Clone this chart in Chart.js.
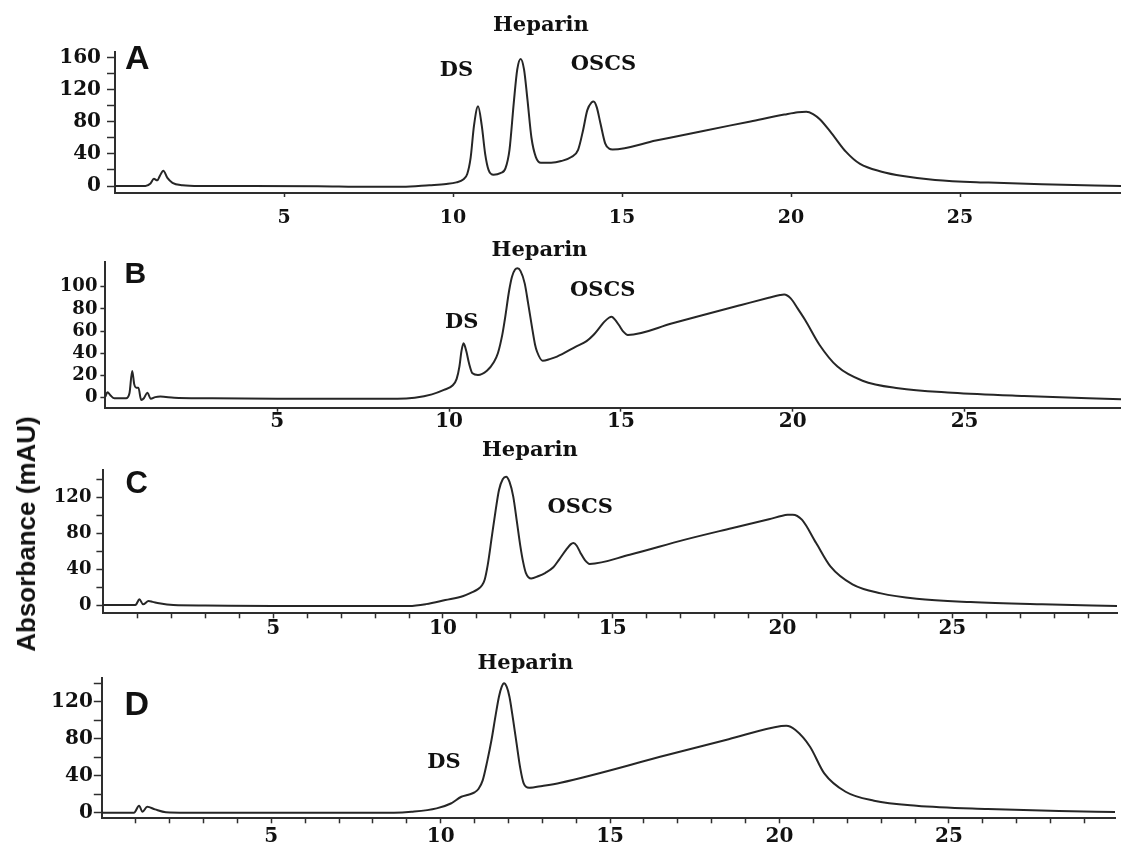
<!DOCTYPE html>
<html>
<head>
<meta charset="utf-8">
<script src="https://cdn.jsdelivr.net/npm/chart.js@4.4.1/dist/chart.umd.min.js"></script>
<style>
  html, body { margin:0; padding:0; background:#fff; }
  body { width:1121px; height:843px; position:relative; overflow:hidden; }
  canvas { position:absolute; left:0; }
  #ytitle { position:absolute; left:26px; top:534px; transform:translate(-50%,-50%) rotate(-90deg);
            font:bold 26px "Liberation Sans", Arial, sans-serif; line-height:1; white-space:nowrap; color:#111; }
</style>
</head>
<body>
<canvas id="cA" width="1121" height="232" style="top:0px"></canvas>
<canvas id="cB" width="1121" height="200" style="top:232px"></canvas>
<canvas id="cC" width="1121" height="208" style="top:432px"></canvas>
<canvas id="cD" width="1121" height="203" style="top:640px"></canvas>
<div id="ytitle">Absorbance (mAU)</div>
<script>
// ---------------- data (retention time in min, absorbance in mAU) ----------------
const timeA = [0.0,0.9,1.05,1.15,1.25,1.32,1.43,1.55,1.7,2.0,2.5,4.0,6.0,7.5,8.5,9.3,9.8,10.1,10.3,10.42,10.52,10.62,10.74,10.85,10.95,11.05,11.2,11.4,11.55,11.67,11.8,11.9,12.0,12.1,12.2,12.32,12.45,12.6,12.9,13.2,13.5,13.7,13.85,13.97,14.1,14.16,14.25,14.36,14.5,14.62,14.72,16.0,17.4,18.8,19.8,20.2,20.45,20.65,20.85,21.2,21.62,22.04,22.68,23.31,24.26,25.84,27.42,29.76];
const absA  = [0,0,3,9,7,12,19,10,4,1,0,0,-0.3,-1,-1,1,2.5,4.5,8,15,35,75,99,75,40,20,14,16,22,45,105,145,158,145,108,60,36,29,29,31,36,45,70,94,104,105,98,78,53,46.5,45.5,56.5,68.5,80.3,88.8,91.8,92.4,89.5,83,65.5,42.7,27.4,17.8,12.4,7.5,4.2,2.1,0];

const timeB = [0.0,0.06,0.15,0.26,0.6,0.7,0.78,0.84,0.9,0.96,1.04,1.12,1.22,1.32,1.45,1.6,2.0,3.0,5.0,7.0,8.5,9.0,9.5,9.85,10.1,10.22,10.3,10.36,10.42,10.5,10.58,10.68,10.84,11.1,11.3,11.42,11.55,11.62,11.75,11.83,11.92,11.99,12.08,12.2,12.3,12.41,12.5,12.56,12.72,12.95,13.14,13.69,14.0,14.2,14.4,14.52,14.65,14.73,14.82,14.94,15.07,15.2,16.5,17.34,18.5,19.3,19.63,19.75,19.94,20.15,20.36,20.78,21.3,22.03,23.07,24.64,26.73,29.55];
const absB  = [1,5,2,-0.5,-0.5,4,24,12,9,9,-2,-0.5,4.5,-1,0.5,1,0,-0.5,-1,-1,-1,0,3,7,11,17,28,42,49,42,31,22,20.5,24.3,32,40,57,70,97,109,115.5,116.6,114,103,85,64,48,41.4,33.3,35,37,46,51,56.5,64,68.5,72,73,70.5,65.5,59.5,56.5,67,74,83.5,90,92.5,93,89.5,80,70,47.5,28,15.3,8.5,4.5,1.5,-1.5];

const timeC = [0.0,0.9,0.96,1.06,1.17,1.33,1.45,1.64,2.06,3.0,5.0,7.0,9.0,9.5,10.07,10.6,10.85,11.02,11.15,11.23,11.32,11.44,11.55,11.65,11.76,11.86,11.96,12.07,12.18,12.28,12.36,12.44,12.6,12.8,13.02,13.25,13.42,13.63,13.76,13.84,13.94,14.05,14.18,14.32,15.5,17.1,18.5,19.6,20.15,20.3,20.57,20.99,21.41,22.06,22.9,23.95,25.54,27.64,29.85];
const absC  = [0,0,0.5,6.3,0.8,4.4,3.5,1.9,0,-0.5,-1,-1,-1,1,5.5,10,14,17.4,22,28.5,45,76.4,105,128,140,142.9,137,120.7,92,65.3,48,35.9,29.6,32,35.9,42,50.6,61.7,67.5,69,66,58,50,45.8,56,72.5,85.5,95.5,100.4,100.6,95,69,43,23,13,7,3.3,0.8,-1];

const timeD = [0.0,0.95,1.1,1.2,1.34,1.57,1.89,2.5,8.62,9.14,9.88,10.3,10.61,10.82,11.0,11.12,11.24,11.37,11.5,11.62,11.72,11.8,11.87,11.95,12.03,12.14,12.24,12.35,12.45,12.61,13.0,13.54,16.68,18.5,20.05,20.2,20.47,20.9,21.32,21.95,22.79,24.04,26.15,28.25,29.9];
const absD  = [0,0,7.6,1,6.5,3.6,0.5,0,0,1,4.7,10,17.3,19.5,22,26,35,55,78.6,105,125.4,136,139.9,136,125.4,100,75,48,31.8,27,29,32.5,62.4,79.5,93.7,94,89.4,71.4,42.6,22.7,13,7.6,4,1.8,0.8];

// tick values
const xTicksMajor = [5,10,15,20,25];
const xTicksMinor = [1,2,3,4,5,6,7,8,9,10,11,12,13,14,15,16,17,18,19,20,21,22,23,24,25,26,27,28,29];
const yTicksA  = [0,20,40,60,80,100,120,140,160];
const yTicksB  = [0,20,40,60,80,100];
const yTicksCD = [0,20,40,60,80,100,120,140];

// peak annotations (label, retention time, absorbance level of label)
const peaksA = [{text:'DS', t:10.1, v:143.7}, {text:'Heparin', t:12.6, v:199}, {text:'OSCS', t:14.45, v:150.5}];
const peaksB = [{text:'DS', t:10.37, v:67.3}, {text:'Heparin', t:12.63, v:132.2}, {text:'OSCS', t:14.47, v:96.1}];
const peaksC = [{text:'Heparin', t:12.56, v:171.9}, {text:'OSCS', t:14.04, v:108.7}];
const peaksD = [{text:'Heparin', t:12.5, v:161.3}, {text:'DS', t:10.1, v:54.3}];

// ---------------- drawing ----------------
const INK = '#111';
const AXIS = '#2e2e2e';

const textPlugin = {
  id: 'panelText',
  afterDraw(chart, args, o) {
    const ctx = chart.ctx, xs = chart.scales.x, ys = chart.scales.y;
    ctx.save();
    ctx.fillStyle = INK;
    ctx.textAlign = 'center';
    ctx.textBaseline = 'middle';
    ctx.font = 'bold 21px "DejaVu Serif"';
    o.peaks.forEach(p => ctx.fillText(p.text, xs.getPixelForValue(p.t), ys.getPixelForValue(p.v)));
    ctx.textAlign = 'left';
    ctx.textBaseline = 'alphabetic';
    ctx.font = 'bold ' + o.letterSize + 'px "Liberation Sans"';
    ctx.fillText(o.letter, o.letterX, o.letterY);
    ctx.restore();
  }
};

function panel(id, p) {
  const pts = p.times.map((t, i) => ({x: t, y: p.vals[i]}));
  const canvas = document.getElementById(id);
  return new Chart(canvas, {
    type: 'line',
    data: { datasets: [{ data: pts, borderColor: '#262626', borderWidth: 2, pointRadius: 0,
                         cubicInterpolationMode: 'monotone', fill: false }] },
    options: {
      responsive: false, animation: false, devicePixelRatio: 1,
      layout: { padding: { top: p.padTop, right: p.padRight, left: 0, bottom: 0 } },
      plugins: { legend: { display: false }, tooltip: { enabled: false },
                 panelText: { peaks: p.peaks, letter: p.letter, letterSize: p.letterSize, letterX: p.letterX, letterY: p.letterY } },
      scales: {
        x: {
          type: 'linear', min: p.xMin, max: p.xMax,
          afterBuildTicks: s => { s.ticks = p.xTicks.map(v => ({value: v})); },
          afterFit: s => { s.height = p.xHeight; },
          ticks: { autoSkip: false, maxRotation: 0, color: INK, padding: p.xPad,
                   font: { family: 'DejaVu Serif', weight: 'bold', size: p.xFont, lineHeight: 1 },
                   callback: v => (v % 5 === 0 ? String(v) : '') },
          grid: { display: true, drawOnChartArea: false, drawTicks: true, tickLength: p.xTickLen, tickWidth: 1.5, tickColor: AXIS },
          border: { display: true, color: AXIS, width: 2 }
        },
        y: {
          type: 'linear', min: p.yMin, max: p.yMax,
          afterBuildTicks: s => { s.ticks = p.yTicks.map(v => ({value: v})); },
          afterFit: s => { s.width = p.axisX; },
          ticks: { autoSkip: false, color: INK, padding: p.yPad,
                   font: { family: 'DejaVu Serif', weight: 'bold', size: p.yFont, lineHeight: 1 },
                   callback: v => (v % p.yLabelStep === 0 ? String(v) : '') },
          grid: { display: true, drawOnChartArea: false, drawTicks: true, tickLength: p.yTickLen, tickWidth: 1.5, tickColor: AXIS },
          border: { display: true, color: AXIS, width: 2 }
        }
      }
    },
    plugins: [textPlugin]
  });
}

panel('cA', { times: timeA, vals: absA, xMin: 0, xMax: 29.76, yMin: -8.7, yMax: 166.6,
  xTicks: xTicksMajor, yTicks: yTicksA, yLabelStep: 40,
  padTop: 52, padRight: 0, axisX: 115, xHeight: 39,
  xFont: 19, xPad: 12, xTickLen: 4, yFont: 20, yPad: 6, yTickLen: 8,
  peaks: peaksA, letter: 'A', letterSize: 34, letterX: 125, letterY: 69 });

panel('cB', { times: timeB, vals: absB, xMin: 0, xMax: 29.55, yMin: -9, yMax: 122.5,
  xTicks: xTicksMajor, yTicks: yTicksB, yLabelStep: 20,
  padTop: 29.7, padRight: 0, axisX: 105.4, xHeight: 24.3,
  xFont: 20, xPad: 0, xTickLen: 4, yFont: 18, yPad: 3, yTickLen: 5,
  peaks: peaksB, letter: 'B', letterSize: 30, letterX: 124.5, letterY: 51.3 });

panel('cC', { times: timeC, vals: absC, xMin: 0, xMax: 29.85, yMin: -9.2, yMax: 150.3,
  xTicks: xTicksMinor, yTicks: yTicksCD, yLabelStep: 40,
  padTop: 38, padRight: 4, axisX: 103.4, xHeight: 26.7,
  xFont: 20, xPad: 0, xTickLen: 5, yFont: 18, yPad: 5, yTickLen: 7,
  peaks: peaksC, letter: 'C', letterSize: 31, letterX: 125.5, letterY: 60.5 });

panel('cD', { times: timeD, vals: absD, xMin: 0, xMax: 29.9, yMin: -6, yMax: 145.3,
  xTicks: xTicksMinor, yTicks: yTicksCD, yLabelStep: 40,
  padTop: 38.3, padRight: 6, axisX: 101.8, xHeight: 24.7,
  xFont: 20, xPad: 3, xTickLen: 5, yFont: 20, yPad: 1, yTickLen: 8,
  peaks: peaksD, letter: 'D', letterSize: 34, letterX: 124.5, letterY: 75 });
</script>
</body>
</html>
